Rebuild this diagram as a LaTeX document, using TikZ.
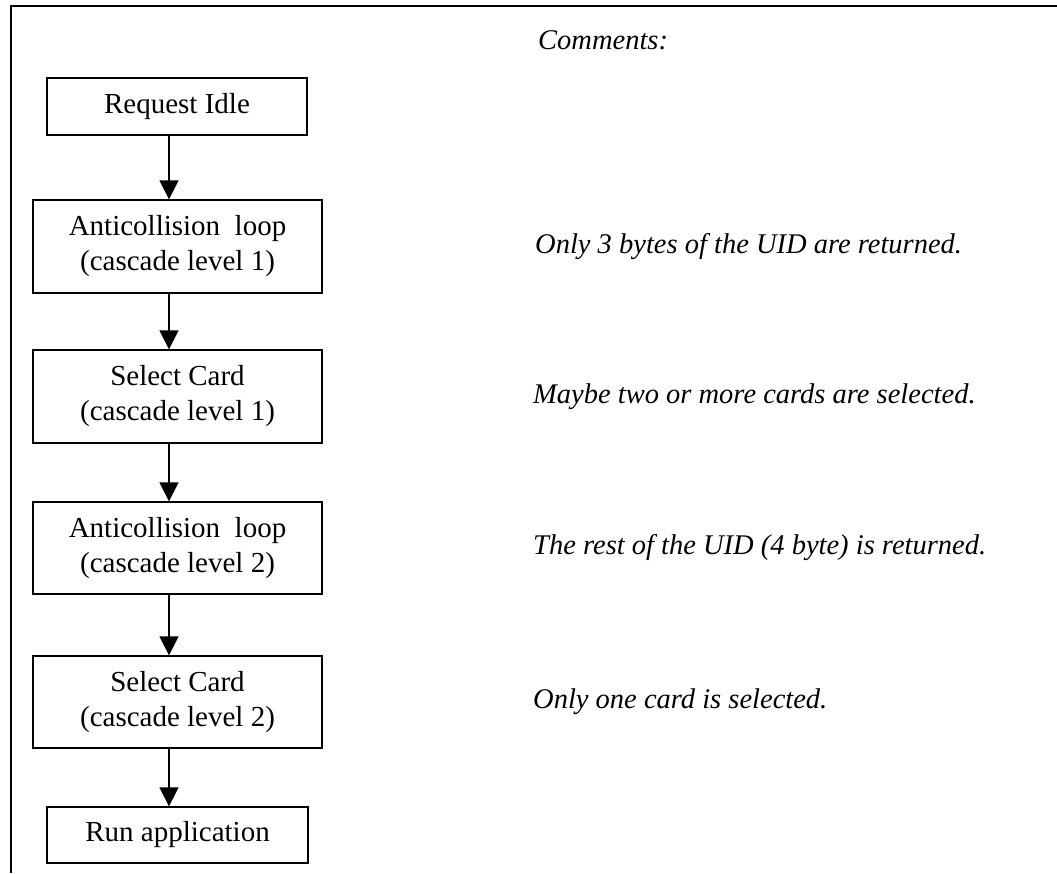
\documentclass[tikz,border=0pt]{standalone}
\usepackage{fontspec}
\setmainfont{Liberation Serif}
\usetikzlibrary{arrows.meta}

\tikzset{
  stepbox/.style={draw, line width=1.3pt, rectangle, align=center,
    inner sep=0pt, font=\fontsize{29}{35}\selectfont},
  flow/.style={line width=1.3pt, -{Triangle[width=19pt,length=19pt]}},
  note/.style={anchor=west, inner sep=0pt, font=\fontsize{28.5}{34}\selectfont\itshape},
  frame/.style={line width=2pt}
}

\begin{document}
\begin{tikzpicture}[x=1pt,y=-1pt]
  \useasboundingbox (0,0) rectangle (1057,873);

  % open frame: left and top edges
  \coordinate (fbl) at (11,873);
  \coordinate (ftl) at (11,6);
  \coordinate (ftr) at (1057,6);
  \draw[frame] (fbl) -- (ftl) -- (ftr);

  % flow chart steps
  \node[stepbox, minimum width=260pt, minimum height=57pt] (idle) at (177,106.5) {Request Idle};
  \node[stepbox, minimum width=289pt, minimum height=93pt] (ac1) at (177.5,246.5) {Anticollision\ \ loop\\(cascade level 1)};
  \node[stepbox, minimum width=289pt, minimum height=93pt] (sel1) at (177.5,396.5) {Select Card\\(cascade level 1)};
  \node[stepbox, minimum width=289pt, minimum height=92pt] (ac2) at (177.5,548) {Anticollision\ \ loop\\(cascade level 2)};
  \node[stepbox, minimum width=289pt, minimum height=92pt] (sel2) at (177.5,702) {Select Card\\(cascade level 2)};
  \node[stepbox, minimum width=261pt, minimum height=56pt] (run) at (177.5,835) {Run application};

  % connectors
  \draw[flow] ([xshift=-8pt]idle.south) -- ([xshift=-8.5pt]ac1.north);
  \draw[flow] ([xshift=-8.5pt]ac1.south) -- ([xshift=-8.5pt]sel1.north);
  \draw[flow] ([xshift=-8.5pt]sel1.south) -- ([xshift=-8.5pt]ac2.north);
  \draw[flow] ([xshift=-8.5pt]ac2.south) -- ([xshift=-8.5pt]sel2.north);
  \draw[flow] ([xshift=-8.5pt]sel2.south) -- ([xshift=-8.5pt]run.north);

  % comments column
  \node[note] (hdr) at (538,40) {Comments:};
  \node[note] (c1) at (535,246.5) {Only 3 bytes of the UID are returned.};
  \node[note] (c2) at (533,396.5) {Maybe two or more cards are selected.};
  \node[note] (c3) at (533,548) {The rest of the UID (4 byte) is returned.};
  \node[note] (c4) at (533,702) {Only one card is selected.};
\end{tikzpicture}
\end{document}
